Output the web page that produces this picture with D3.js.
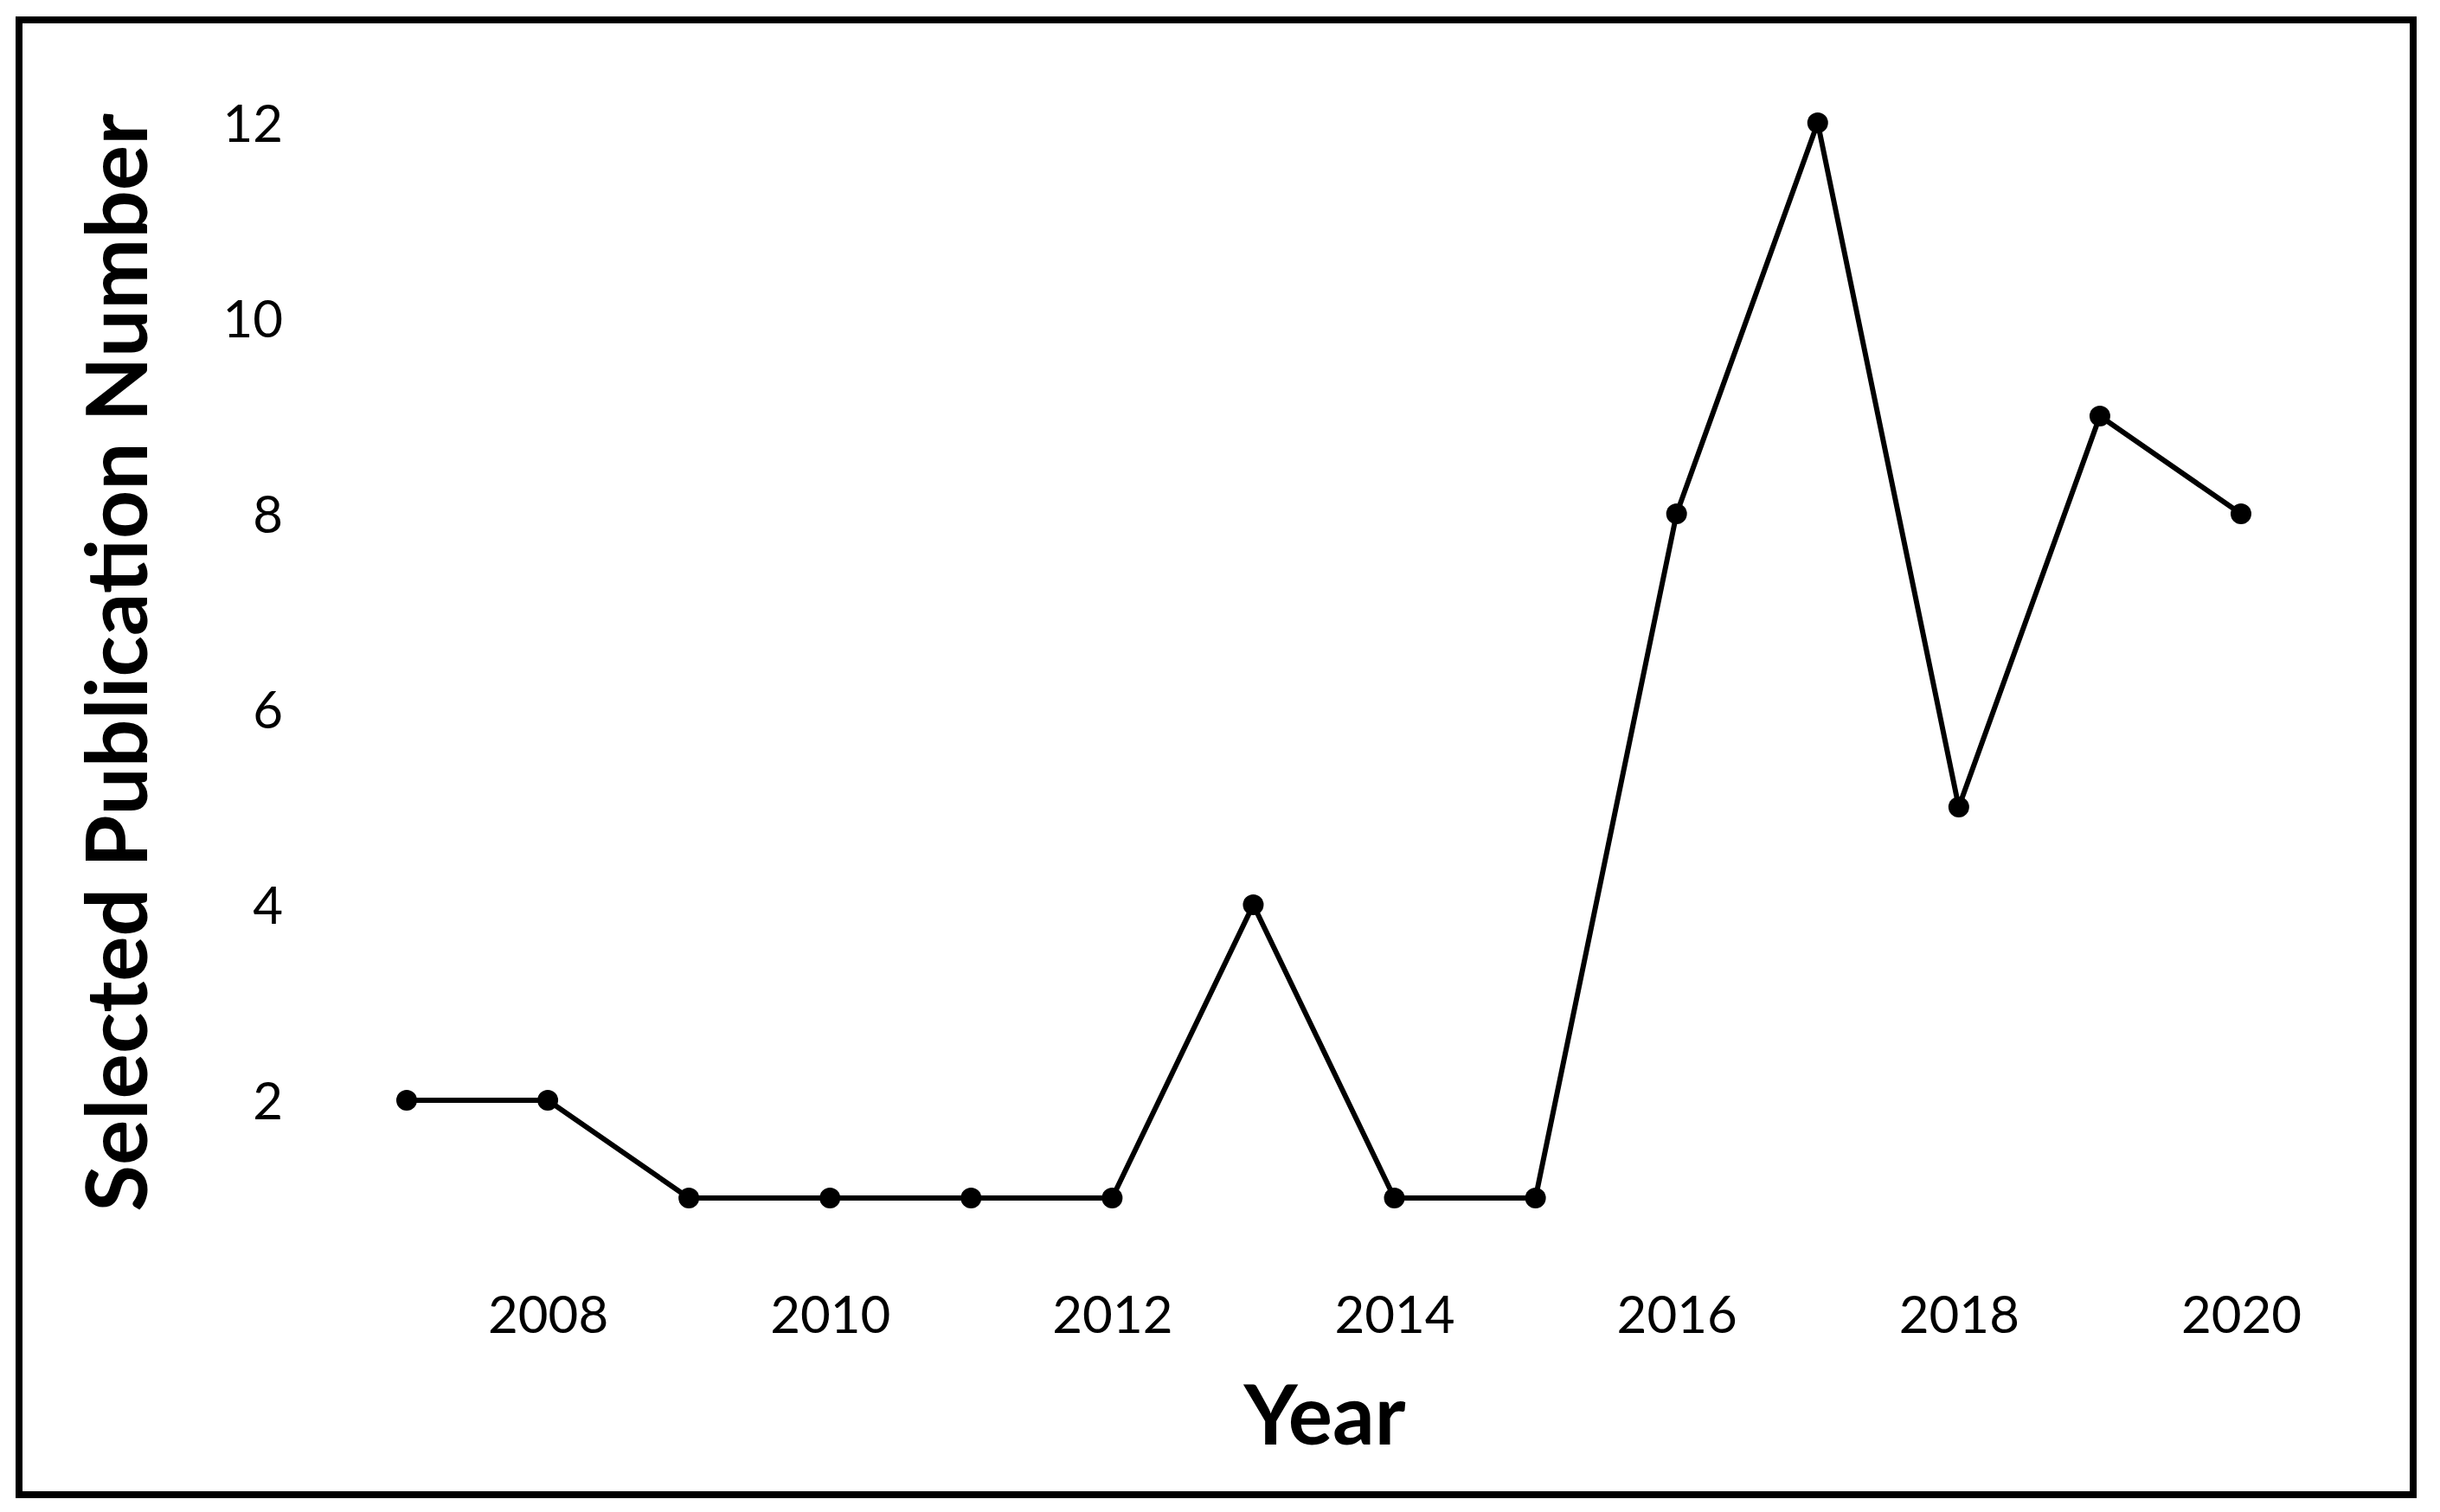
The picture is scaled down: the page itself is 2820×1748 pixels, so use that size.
<!DOCTYPE html>
<html>
<head>
<meta charset="utf-8">
<script src="https://cdn.jsdelivr.net/npm/d3@7"></script>
<style>
  body { margin: 0; background: #fff; }
  svg text { font-family: Lato, "Open Sans", sans-serif; fill: #000; }
</style>
</head>
<body>
<div id="chart"></div>
<script>
// publications per year
var years = [2007, 2008, 2009, 2010, 2011, 2012, 2013, 2014, 2015, 2016, 2017, 2018, 2019, 2020];
var counts = [2, 2, 1, 1, 1, 1, 4, 1, 1, 8, 12, 5, 9, 8];
var xTicks = [2008, 2010, 2012, 2014, 2016, 2018, 2020];
var yTicks = [2, 4, 6, 8, 10, 12];

var width = 2820, height = 1748;

var svg = d3.select("#chart").append("svg")
  .attr("width", width)
  .attr("height", height);

// frame round the whole figure
svg.append("rect")
  .attr("x", 22).attr("y", 23)
  .attr("width", 2767).attr("height", 1705)
  .attr("fill", "none")
  .attr("stroke", "#000")
  .attr("stroke-width", 8);

var x = d3.scaleLinear().domain([2007, 2020]).range([470, 2590]);
var y = d3.scaleLinear().domain([0, 12]).range([1498, 142]);

// axes without lines or ticks, only labels
var xAxis = svg.append("g")
  .attr("transform", "translate(0,1500)")
  .call(d3.axisBottom(x).tickValues(xTicks).tickFormat(d3.format("d")).tickSize(0).tickPadding(0));
xAxis.select(".domain").remove();
xAxis.selectAll("text")
  .attr("font-size", 60)
  .attr("font-family", "Lato, sans-serif")
  .attr("dy", "0.68em");

var yAxis = svg.append("g")
  .attr("transform", "translate(327,0)")
  .call(d3.axisLeft(y).tickValues(yTicks).tickSize(0).tickPadding(0));
yAxis.select(".domain").remove();
yAxis.selectAll("text")
  .attr("font-size", 60)
  .attr("font-family", "Lato, sans-serif")
  .attr("dy", "0.36em");

var data = years.map(function(d, i){ return {year: d, value: counts[i]}; });

var line = d3.line()
  .x(function(d){ return x(d.year); })
  .y(function(d){ return y(d.value); });

svg.append("path")
  .datum(data)
  .attr("d", line)
  .attr("fill", "none")
  .attr("stroke", "#000")
  .attr("stroke-width", 6);

svg.selectAll("circle.pt")
  .data(data)
  .enter()
  .append("circle")
  .attr("class", "pt")
  .attr("cx", function(d){ return x(d.year); })
  .attr("cy", function(d){ return y(d.value); })
  .attr("r", 12)
  .attr("fill", "#000");

// axis titles
svg.append("text")
  .attr("x", 1531).attr("y", 1670)
  .attr("text-anchor", "middle")
  .attr("font-size", 96)
  .attr("font-weight", "bold")
  .text("Year");

svg.append("text")
  .attr("transform", "translate(170,766) rotate(-90)")
  .attr("text-anchor", "middle")
  .attr("font-size", 98)
  .attr("font-weight", "bold")
  .text("Selected Publication Number");
</script>
</body>
</html>
